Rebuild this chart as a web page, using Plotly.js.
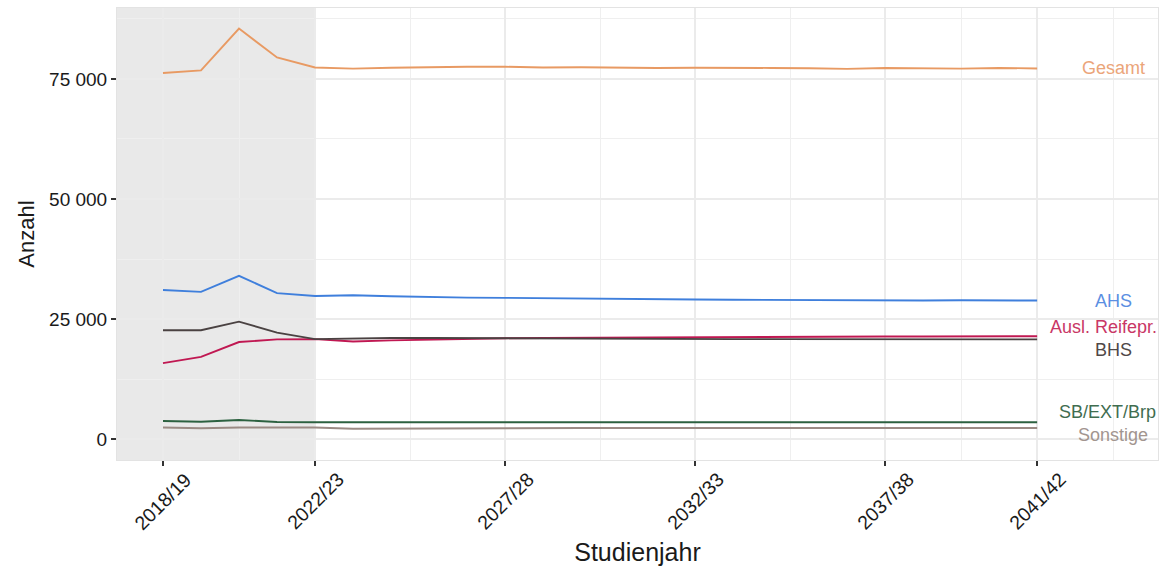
<!DOCTYPE html>
<html>
<head>
<meta charset="utf-8">
<script src="https://cdn.plot.ly/plotly-3.0.1.min.js"></script>
<style>html,body{margin:0;padding:0;background:#fff;}#chart{width:1163px;height:574px;}</style>
</head>
<body>
<div id="chart"></div>
<script>
const years = ["2018/19","2019/20","2020/21","2021/22","2022/23","2023/24","2024/25","2025/26","2026/27","2027/28","2028/29","2029/30","2030/31","2031/32","2032/33","2033/34","2034/35","2035/36","2036/37","2037/38","2038/39","2039/40","2040/41","2041/42"];
const tickLabels = ["2018/19","2022/23","2027/28","2032/33","2037/38","2041/42"];
const yTickValues = [0, 25000, 50000, 75000];
const yTickLabels = ["0", "25 000", "50 000", "75 000"];
const seriesNames = ["Gesamt","AHS","Ausl. Reifepr.","BHS","SB/EXT/Brp","Sonstige"];
const gesamt = [76250,76800,85500,79500,77400,77150,77350,77500,77550,77550,77400,77450,77300,77300,77350,77250,77300,77250,77100,77300,77150,77150,77300,77200];
const ahs = [31050,30650,34000,30400,29800,29950,29750,29550,29450,29400,29300,29200,29100,29000,29050,29000,28950,28900,28850,28850,28850,28900,28950,28850];
const auslReifepr = [15800,17100,20200,20750,20800,20300,20550,20750,20900,21000,21050,21100,21150,21200,21200,21250,21300,21350,21350,21350,21350,21350,21400,21400];
const bhs = [22650,22650,24450,22150,20800,21000,21050,21050,21000,20950,20950,20950,20900,20850,20850,20800,20800,20800,20750,20850,20700,20700,20700,20750];
const sbExtBrp = [3750,3600,3950,3550,3500,3500,3500,3500,3520,3550,3550,3550,3550,3550,3550,3550,3550,3550,3550,3550,3550,3550,3500,3500];
const sonstige = [2400,2250,2400,2400,2400,2150,2200,2250,2300,2300,2300,2300,2300,2300,2300,2300,2300,2300,2300,2300,2300,2300,2300,2300];
const observedUntil = "2022/23";

const allSeries = [gesamt, ahs, auslReifepr, bhs, sbExtBrp, sonstige];
const lineColors = ["#e89a63","#3f7fdc","#c01852","#4a4242","#2c6140","#9a8b84"];
const labelColors = ["#eba57a","#5b8fe2","#c93766","#4f4848","#3f6d50","#a2958f"];
const labelShiftY = [0, 0, 9, -11, 10, -7];
const labelShiftX = [0, 0, -10, 0, -6, 0];
const FONT = "Liberation Sans, Arial, sans-serif";

const idx = years.map((_, i) => i);
const tickIdx = tickLabels.map(t => years.indexOf(t));
const xRange = [-1.21, 26.18];
const labelX = years.length + 1;

const traces = allSeries.map((s, k) => ({
  x: idx, y: s, type: "scatter", mode: "lines", name: seriesNames[k],
  line: {color: lineColors[k], width: 1.9}, hoverinfo: "skip", showlegend: false
}));

const annotations = allSeries.map((s, k) => ({
  x: labelX, y: s[s.length - 1], xref: "x", yref: "y", text: seriesNames[k],
  showarrow: false, xanchor: "center", yanchor: "middle",
  yshift: labelShiftY[k], xshift: labelShiftX[k],
  font: {family: FONT, size: 18, color: labelColors[k]}
}));

tickLabels.forEach((t, i) => {
  annotations.push({
    x: tickIdx[i], y: 0, xref: "x", yref: "paper", text: t, textangle: -45,
    showarrow: false, xanchor: "center", yanchor: "top", yshift: -5,
    font: {family: FONT, size: 19.5, color: "#1a1a1a"}
  });
});

const layout = {
  width: 1163, height: 574,
  margin: {l: 117, r: 5, t: 8, b: 114},
  paper_bgcolor: "#ffffff", plot_bgcolor: "#ffffff",
  font: {family: FONT, color: "#1a1a1a"},
  showlegend: false,
  xaxis: {
    range: xRange, tickmode: "array", tickvals: tickIdx, ticktext: tickLabels,
    showticklabels: false,
    ticks: "outside", ticklen: 5, tickwidth: 1.5, tickcolor: "#333333",
    showgrid: true, gridcolor: "#ebebeb", gridwidth: 1.3,
    minor: {tickmode: "array", tickvals: [2, 6.5, 11.5, 16.5, 21, 25], showgrid: true, gridcolor: "#efefef", gridwidth: 1, ticks: ""},
    zeroline: false, showline: true, linecolor: "#e3e3e3", linewidth: 1, mirror: true,
    title: {text: "Studienjahr", font: {size: 25, color: "#1a1a1a"}, standoff: 78}
  },
  yaxis: {
    range: [-4375, 89790], tickmode: "array", tickvals: yTickValues, ticktext: yTickLabels,
    ticks: "outside", ticklen: 5, tickwidth: 1.5, tickcolor: "#333333",
    tickfont: {size: 19, color: "#1a1a1a"},
    showgrid: true, gridcolor: "#ebebeb", gridwidth: 1.3,
    minor: {tickmode: "array", tickvals: [12500, 37500, 62500, 87500], showgrid: true, gridcolor: "#efefef", gridwidth: 1, ticks: ""},
    zeroline: false, showline: true, linecolor: "#e3e3e3", linewidth: 1, mirror: true,
    title: {text: "Anzahl", font: {size: 22, color: "#1a1a1a"}, standoff: 8}
  },
  shapes: [{
    type: "rect", xref: "x", yref: "paper", layer: "between",
    x0: xRange[0], x1: years.indexOf(observedUntil), y0: 0, y1: 1,
    fillcolor: "rgba(0,0,0,0.085)", line: {width: 0}
  }],
  annotations: annotations
};

Plotly.newPlot("chart", traces, layout, {displayModeBar: false, staticPlot: true});
</script>
</body>
</html>
